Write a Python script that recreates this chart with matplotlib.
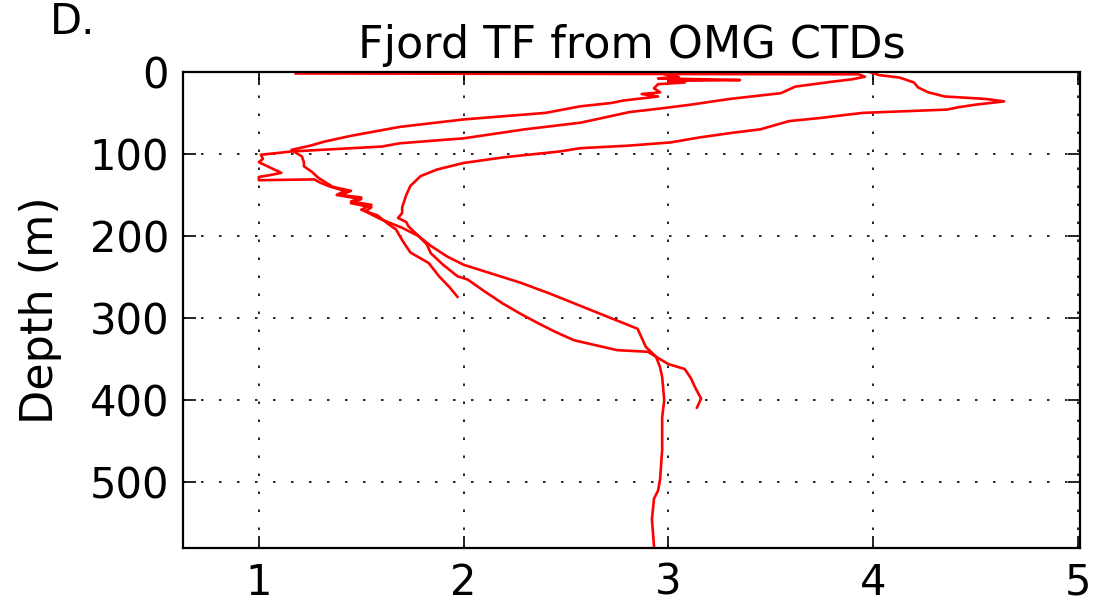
import matplotlib
import matplotlib.pyplot as plt

matplotlib.use("Agg")

# Three OMG CTD casts: thermal forcing (deg C) vs depth (m)
CAST_A_DEPTH = [0, 4, 7, 13, 19, 25, 30, 33, 36, 40, 43, 46, 49, 50, 52, 56, 60,
                65, 70, 74, 80, 86, 90, 93, 97, 104, 111, 119, 127, 139, 150,
                165, 172, 178, 183, 188, 200, 212, 225, 235, 246, 257, 270, 282,
                298, 313, 324, 335, 347, 360, 372, 400, 421, 460, 496, 510, 520,
                545, 578]
CAST_A_TF = [3.98, 4.03, 4.13, 4.20, 4.22, 4.27, 4.35, 4.55, 4.64, 4.50, 4.42,
             4.36, 4.05, 3.95, 3.88, 3.75, 3.59, 3.52, 3.45, 3.32, 3.15, 3.01,
             2.80, 2.57, 2.47, 2.20, 2.00, 1.87, 1.79, 1.74, 1.72, 1.70, 1.70,
             1.68, 1.72, 1.73, 1.78, 1.84, 1.92, 2.00, 2.14, 2.28, 2.42, 2.54,
             2.70, 2.85, 2.87, 2.89, 2.94, 2.96, 2.97, 2.98, 2.97, 2.97, 2.96,
             2.95, 2.93, 2.92, 2.93]

CAST_B_DEPTH = [2, 3, 6, 9, 12, 18, 26, 33, 40, 45, 49, 55, 62, 70, 81, 87, 91,
                97, 101, 106, 110, 116, 123, 126, 128, 132, 131, 135, 140, 145,
                150, 155, 160, 165, 170, 180, 190, 200, 210, 221, 235, 249, 253,
                267, 282, 295, 307, 317, 327, 339, 341, 356, 362, 373, 384, 398,
                409]
CAST_B_TF = [1.18, 3.93, 3.96, 3.90, 3.80, 3.62, 3.55, 3.30, 3.11, 2.95, 2.81,
             2.70, 2.57, 2.30, 2.00, 1.69, 1.60, 1.16, 1.01, 1.02, 1.00, 1.05,
             1.11, 1.05, 1.00, 1.00, 1.27, 1.30, 1.35, 1.42, 1.38, 1.50, 1.45,
             1.55, 1.52, 1.60, 1.70, 1.78, 1.82, 1.84, 1.90, 1.97, 2.02, 2.10,
             2.19, 2.28, 2.37, 2.45, 2.54, 2.75, 2.90, 3.00, 3.08, 3.11, 3.13,
             3.16, 3.14]

CAST_C_DEPTH = [0, 3, 6, 8, 10, 11, 13, 15, 20, 25, 27, 30, 35, 38, 42, 50, 58,
                67, 77, 79, 85, 90, 95, 100, 103, 110, 115, 122, 129, 140, 145,
                150, 153, 158, 162, 168, 175, 185, 192, 205, 220, 233, 249, 262,
                274]
CAST_C_TF = [3.00, 2.98, 3.05, 2.95, 3.35, 3.00, 3.08, 2.95, 2.93, 2.96, 2.87,
             2.95, 2.78, 2.72, 2.57, 2.40, 2.00, 1.69, 1.47, 1.43, 1.32, 1.25,
             1.16, 1.19, 1.21, 1.22, 1.22, 1.26, 1.29, 1.36, 1.45, 1.40, 1.50,
             1.45, 1.55, 1.50, 1.58, 1.63, 1.67, 1.70, 1.74, 1.83, 1.88, 1.93,
             1.97]

X_TICKS = [1, 2, 3, 4, 5]
Y_TICKS = [0, 100, 200, 300, 400, 500]


def main():
    fig = plt.figure(figsize=(11.03, 6.14), dpi=100)
    ax = fig.add_axes([0.166, 0.1075, 0.813, 0.7755])

    for tf, depth in [(CAST_A_TF, CAST_A_DEPTH),
                      (CAST_B_TF, CAST_B_DEPTH),
                      (CAST_C_TF, CAST_C_DEPTH)]:
        ax.plot(tf, depth, color="red", linewidth=1.9)

    ax.set_xlim(0.63, 5.01)
    ax.set_ylim(580, 0)
    ax.set_xticks(X_TICKS)
    ax.set_yticks(Y_TICKS)
    ax.grid(True, color="black", linestyle=(0, (1.5, 9.3)), linewidth=1.2)
    ax.tick_params(direction="in", length=9, width=1.2, top=True, right=True,
                   labelsize=30, pad=10)
    for spine in ax.spines.values():
        spine.set_linewidth(1.6)

    ax.set_ylabel("Depth (m)", fontsize=32, labelpad=20)
    ax.set_title("Fjord TF from OMG CTDs", fontsize=32, pad=10)
    fig.text(0.045, 0.945, "D.", fontsize=30)

    fig.savefig("out.png", dpi=100)
    plt.close(fig)


if __name__ == "__main__":
    main()
